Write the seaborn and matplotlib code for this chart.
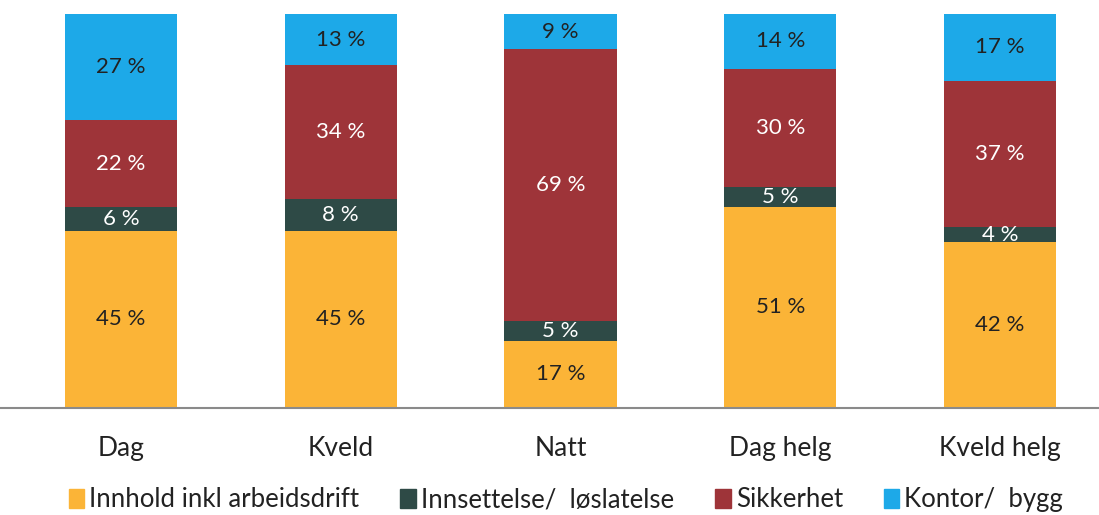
import numpy as np
import pandas as pd
import matplotlib.pyplot as plt
import seaborn as sns

periods = ['Dag', 'Kveld', 'Natt', 'Dag helg', 'Kveld helg']
innhold = [45, 45, 17, 51, 42]
innsettelse = [6, 8, 5, 5, 4]
sikkerhet = [22, 34, 69, 30, 37]
kontor = [27, 13, 9, 14, 17]

series = ['Innhold inkl arbeidsdrift', 'Innsettelse/  løslatelse', 'Sikkerhet', 'Kontor/  bygg']
values = [innhold, innsettelse, sikkerhet, kontor]
colors = ['#FBB437', '#2E4A46', '#9E3439', '#1DA9E8']
label_colors = ['#222222', 'white', 'white', '#222222']

sns.set_theme(style='white')
plt.rcParams['font.family'] = ['Lato', 'DejaVu Sans']

fig = plt.figure(figsize=(10.99, 5.15), dpi=100)
ax = fig.add_axes([0, 0.208, 1, 0.765])

bottom = np.zeros(len(periods))
for name, vals, col in zip(series, values, colors):
    df = pd.DataFrame({'period': periods, 'value': vals})
    sns.barplot(data=df, x='period', y='value', order=periods, color=col,
                width=0.51, bottom=bottom, ax=ax, saturation=1, linewidth=0)
    bottom = bottom + np.array(vals)

for cont, lc in zip(ax.containers, label_colors):
    ax.bar_label(cont, labels=[f'{int(v)} %' for v in cont.datavalues],
                 label_type='center', color=lc, fontsize=16)

ax.set_xlim(-0.55, 4.45)
ax.set_ylim(0, 100)
ax.axhline(0, color='#8a8a8a', lw=1.5, clip_on=False)
for s in ax.spines.values():
    s.set_visible(False)
ax.set_yticks([])
ax.set_xlabel('')
ax.set_ylabel('')
ax.tick_params(axis='x', length=0, pad=20, labelsize=19, labelcolor='#222222')

handles = [plt.Rectangle((0, 0), 1, 1, color=c) for c in colors]
fig.legend(handles, series, loc='lower center', bbox_to_anchor=(0.515, -0.04), ncol=4,
           frameon=False, fontsize=18.5, handlelength=0.6, handleheight=0.75,
           handletextpad=0.2, columnspacing=1.6, labelcolor='#222222')

fig.savefig('out.png', dpi=100)
